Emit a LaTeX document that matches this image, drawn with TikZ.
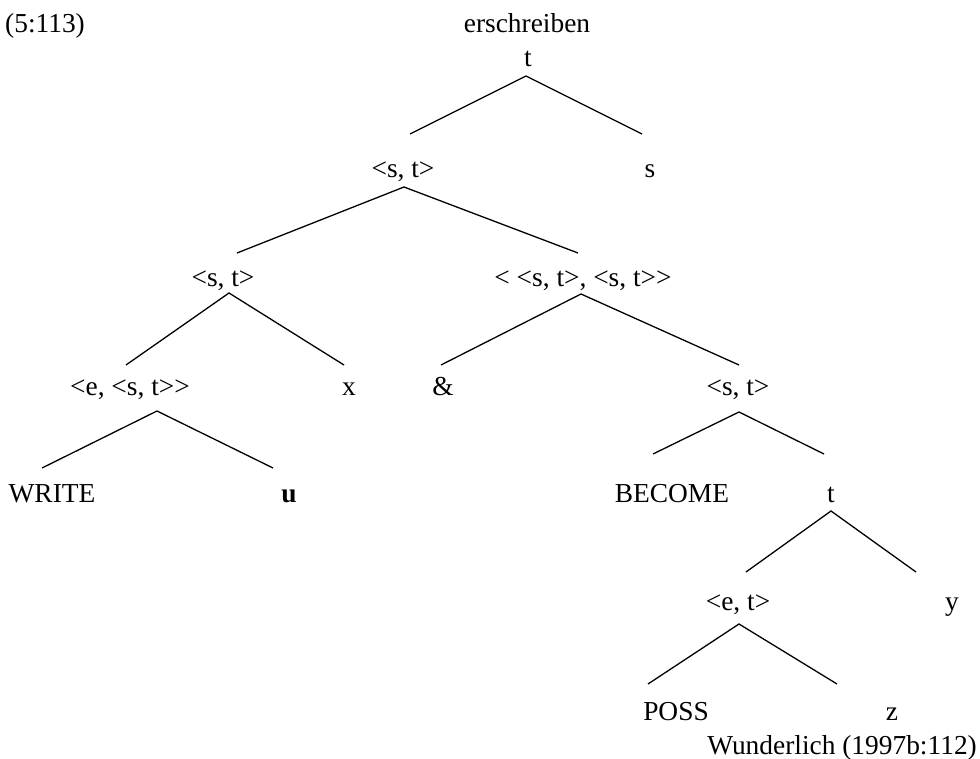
\documentclass[tikz,border=0pt]{standalone}
\usepackage{fontspec}
\setmainfont{Liberation Serif}[Ligatures=TeXOff]
\begin{document}
\begin{tikzpicture}[x=1pt,y=-1pt,
  lab/.style={anchor=base,inner sep=0pt,font=\fontsize{27.4}{32}\selectfont},
  edge/.style={line width=1.3pt}]
\useasboundingbox (0,0) rectangle (980,759);
% labels
\node[lab,anchor=base west] (num) at (5,33) {(5:113)};
\node[lab] (verb) at (527,33) {erschreiben};
\node[lab] (t1) at (528,67) {t};
\node[lab] (st1) at (403,178) {<s, t>};
\node[lab] (s1) at (650,178) {s};
\node[lab] (st2) at (223,287) {<s, t>};
\node[lab] (stst) at (583,287) {< <s, t>, <s, t>>};
\node[lab] (est) at (130,395) {<e, <s, t>>};
\node[lab] (x1) at (349,395) {x};
\node[lab] (amp) at (443,395) {\&};
\node[lab] (st3) at (738,395) {<s, t>};
\node[lab] (write) at (52,502) {WRITE};
\node[lab] (u1) at (289,502) {\textbf{u}};
\node[lab] (become) at (672,502) {BECOME};
\node[lab] (t2) at (831,502) {t};
\node[lab] (et) at (738,610) {<e, t>};
\node[lab] (y1) at (952,610) {y};
\node[lab] (poss) at (676,720) {POSS};
\node[lab] (z1) at (892,720) {z};
\node[lab,anchor=base east] (src) at (977,754) {Wunderlich (1997b:112)};
% branch points
\coordinate (a1) at (526,76);  \coordinate (a1l) at (410,134); \coordinate (a1r) at (642,134);
\coordinate (a2) at (404,187); \coordinate (a2l) at (237,253); \coordinate (a2r) at (578,253);
\coordinate (a3) at (229,293); \coordinate (a3l) at (126,365); \coordinate (a3r) at (344,365);
\coordinate (a4) at (581,294); \coordinate (a4l) at (441,365); \coordinate (a4r) at (739,365);
\coordinate (a5) at (157,411); \coordinate (a5l) at (42,468);  \coordinate (a5r) at (273,468);
\coordinate (a6) at (739,412); \coordinate (a6l) at (653,454); \coordinate (a6r) at (824,454);
\coordinate (a7) at (831,511); \coordinate (a7l) at (746,572); \coordinate (a7r) at (916,572);
\coordinate (a8) at (739,624); \coordinate (a8l) at (648,684); \coordinate (a8r) at (837,684);
\foreach \n in {a1,a2,a3,a4,a5,a6,a7,a8}{
  \draw[edge] (\n l) -- (\n) -- (\n r);
}
\end{tikzpicture}
\end{document}
